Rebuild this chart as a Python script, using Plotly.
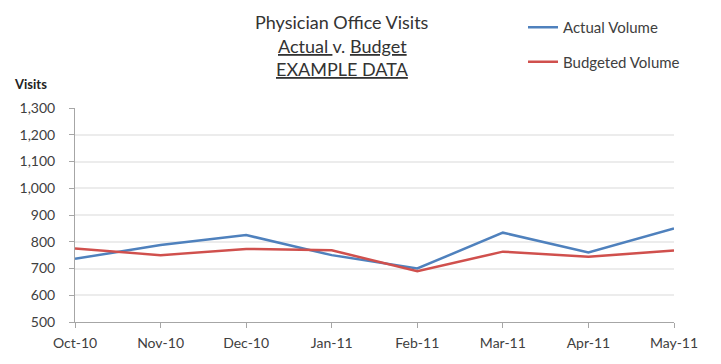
import plotly.graph_objects as go

months = ["Oct-10", "Nov-10", "Dec-10", "Jan-11", "Feb-11", "Mar-11", "Apr-11", "May-11"]
actual = [736, 788, 825, 750, 700, 834, 760, 850]
budget = [775, 750, 773, 768, 690, 763, 744, 767]
y_ticks = [500, 600, 700, 800, 900, 1000, 1100, 1200, 1300]
y_tick_labels = ["500", "600", "700", "800", "900", "1,000", "1,100", "1,200", "1,300"]

FONT = "Lato, 'Open Sans', sans-serif"
TXT = "#404040"

# page body has an 8px default margin; figure is sized to fit the 721x364 window
PX0, PY0 = 75, 108      # plot area top-left in window px
PW, PH = 599, 214       # plot area size

fig = go.Figure()
fig.add_trace(go.Scatter(x=months, y=actual, mode="lines", name="Actual Volume",
                         line=dict(color="#4F81BD", width=2.5), legendgroup="a"))
fig.add_trace(go.Scatter(x=months, y=budget, mode="lines", name="Budgeted Volume",
                         line=dict(color="#D0504D", width=2.5), legendgroup="b"))

fig.update_layout(
    width=713, height=356,
    margin=dict(l=67, r=47, t=100, b=42, autoexpand=False),
    paper_bgcolor="white", plot_bgcolor="white",
    font=dict(family=FONT, size=14, color=TXT),
    showlegend=True,
    legend=dict(x=(523 - PX0) / PW, y=1 + (PY0 - 11) / PH, xanchor="left", yanchor="top",
                font=dict(size=15, color=TXT), tracegroupgap=12,
                bgcolor="rgba(0,0,0,0)", itemwidth=30),
)
fig.update_xaxes(type="category", range=[0, 7], showline=True, linecolor="#a6a6a6",
                 linewidth=1, ticks="outside", ticklen=5, tickcolor="#a6a6a6",
                 showgrid=False, tickfont=dict(size=14, color=TXT), zeroline=False,
                 ticklabelstandoff=3)
fig.update_yaxes(range=[500, 1300], tickvals=y_ticks, ticktext=y_tick_labels,
                 showline=True, linecolor="#a6a6a6", linewidth=1, ticks="outside",
                 ticklen=5, tickcolor="#a6a6a6", showgrid=True, gridcolor="#ececec",
                 gridwidth=2, tickfont=dict(size=14, color=TXT), zeroline=False,
                 ticklabelstandoff=11)

title_lines = ["Physician Office Visits", "<u>Actual </u>v. <u>Budget</u>", "<u>EXAMPLE DATA</u>"]
title_y = [22, 46, 69]
for t, ty in zip(title_lines, title_y):
    fig.add_annotation(text=t, xref="paper", yref="paper", x=(342 - PX0) / PW,
                       y=(PY0 + PH - ty) / PH,
                       xanchor="center", yanchor="middle", showarrow=False,
                       font=dict(size=18, color="#333333", family=FONT))
fig.add_annotation(text="<b>Visits</b>", xref="paper", yref="paper", x=(12 - PX0) / PW,
                   y=(PY0 + PH - 84) / PH, xanchor="left", yanchor="middle", showarrow=False,
                   font=dict(size=13, color="#222222", family=FONT))

fig.write_html("out.html")
